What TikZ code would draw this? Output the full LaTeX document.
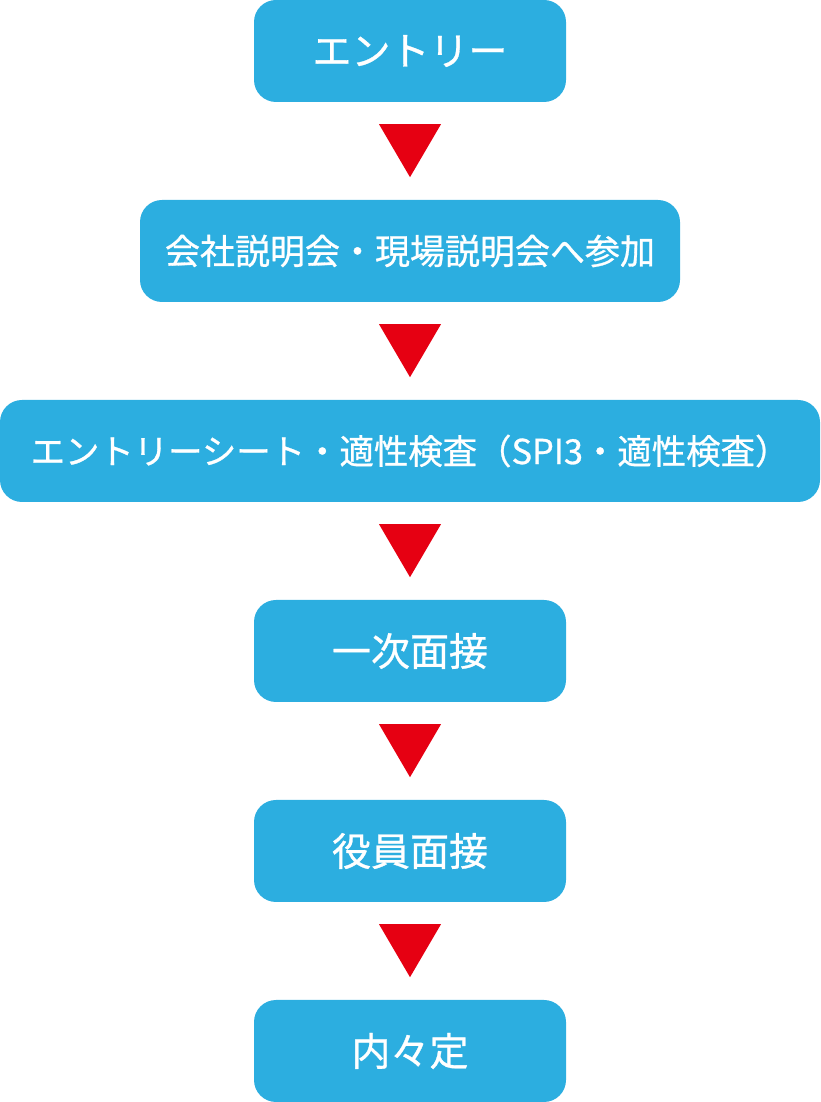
\documentclass[tikz,border=0pt]{standalone}
\usepackage{fontspec}
\newfontfamily\jp[BoldFont={Noto Sans CJK JP}, BoldFeatures={FakeBold=0.8}]{Noto Sans CJK JP}
\usetikzlibrary{calc}
\definecolor{boxblue}{RGB}{44,174,224}
\definecolor{arrred}{RGB}{230,0,18}
\tikzset{
  stepbox/.style={fill=boxblue, rounded corners=22pt, minimum height=102pt, inner sep=0pt, text=white, font=\jp\bfseries\fontsize{39}{40}\selectfont},
  smallbox/.style={stepbox, font=\jp\bfseries\fontsize{35}{36}\selectfont},
  widebox/.style={stepbox, font=\jp\bfseries\fontsize{34.4}{36}\selectfont},
  downtri/.style={fill=arrred}
}
\newcommand{\tri}[1]{\fill[downtri] ($(#1.south)+(-31,-22)$) -- ($(#1.south)+(31,-22)$) -- ($(#1.south)+(0,-75)$) -- cycle;}
\begin{document}
\begin{tikzpicture}[x=1pt,y=1pt]
\useasboundingbox (0,0) rectangle (820,1102);
\node[stepbox, minimum width=312pt] (b1) at (410,1051) {エントリー};
\node[smallbox, minimum width=540pt] (b2) at (410,851) {会社説明会・現場説明会へ参加};
\node[widebox, minimum width=820pt] (b3) at (410,651) {エントリーシート・適性検査（SPI3・適性検査）};
\node[stepbox, minimum width=312pt] (b4) at (410,451) {一次面接};
\node[stepbox, minimum width=312pt] (b5) at (410,251) {役員面接};
\node[stepbox, minimum width=312pt] (b6) at (410,51) {内々定};
\tri{b1}
\tri{b2}
\tri{b3}
\tri{b4}
\tri{b5}
\end{tikzpicture}
\end{document}
